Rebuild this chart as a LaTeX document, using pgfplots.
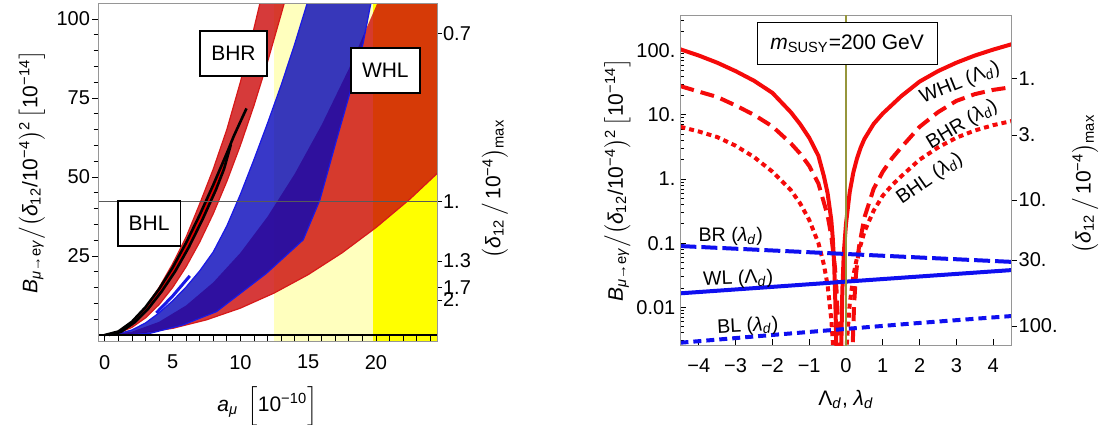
\documentclass[border=0pt]{standalone}
\usepackage{fontspec}
\setmainfont{Liberation Sans}
\usepackage{amsmath}
\usepackage{pgfplots}
\pgfplotsset{compat=1.18}
\definecolor{lyellow}{RGB}{255,255,190}
\definecolor{byellow}{RGB}{255,255,0}
\definecolor{bandred}{RGB}{204,9,9}
\definecolor{bandblue}{RGB}{6,6,186}
\definecolor{edgered}{RGB}{215,25,25}
\definecolor{edgeblue}{RGB}{25,25,230}
\definecolor{framegray}{RGB}{150,150,150}
\definecolor{olivel}{RGB}{150,150,60}
\definecolor{cred}{RGB}{245,10,10}
\definecolor{cblue}{RGB}{15,15,240}
\newcommand\tk{\fontsize{10}{12}\selectfont}
\newcommand\lb{\fontsize{10.5}{12.6}\selectfont}
\newcommand\cl{\fontsize{9.8}{11.8}\selectfont}
\newcommand\Blab{\textit{B}\textsubscript{\textit{μ}→e\textit{γ}}$\bigl/\bigl($\textit{δ}\textsubscript{12}/10\textsuperscript{−4}$\bigr)$\textsuperscript{2}\,$\bigl[$10\textsuperscript{−14}$\bigr]$}
\newcommand\Dlab{$\bigl($\textit{δ}\textsubscript{12}\,$\bigl/$\,10\textsuperscript{−4}$\bigr)$\textsubscript{max}}
\begin{document}
\begin{tikzpicture}
\path[use as bounding box] (0,0) rectangle (556pt,212pt);
% ================= LEFT PANEL =================
\begin{axis}[at={(49pt,41.5pt)}, anchor=south west, scale only axis,
  width=169.5pt, height=169pt,
  xmin=-0.5, xmax=24.5, ymin=-1.9, ymax=105.06,
  axis on top,
  axis line style={framegray, line width=0.5pt},
  tick align=inside, xtick pos=left, ytick=\empty,
  xtick={0,5,10,15,20}, xticklabels={0,5,10,15,20},
  minor xtick={1,2,3,4,6,7,8,9,11,12,13,14,16,17,18,19,21,22,23,24},
  major tick length=3pt, minor tick length=3pt,
  tick style={black, line width=0.4pt},
  xticklabel style={font=\tk, yshift=-3.5pt},
  xlabel={\textit{a}\textsubscript{\textit{μ}}\, $\Big[$10\textsuperscript{−10}$\Big]$},
  every axis x label/.style={at={(axis description cs:0.5,-0.192)}, anchor=center, font=\lb},
]
% background bands
\addplot[draw=none, fill=lyellow] coordinates {(12.46,-5) (19.8,-5) (19.8,110) (12.46,110)} -- cycle;
\addplot[draw=none, fill=byellow] coordinates {(19.8,-5) (26,-5) (26,110) (19.8,110)} -- cycle;
% WHL band
\addplot[draw=none, fill=bandred, fill opacity=0.8] coordinates {
(0,0) (2,1.04) (4,4.16) (6,9.36) (8,16.64) (10,26) (12,37.44) (14,50.96) (16,66.56) (18,84.24) (20,104) (20.4,108.2)
(26,108.2) (26,57.5) (25,53.1) (22.5,43) (20,34) (17.5,26) (15,19.1) (12.5,13.3) (10,8.5) (7.5,4.8) (5,2.1) (2.5,0.53)} -- cycle;
\addplot[edgered, line width=0.6pt] coordinates {
(0,0) (2.5,0.53) (5,2.1) (7.5,4.8) (10,8.5) (12.5,13.3) (15,19.1) (17.5,26) (20,34) (22.5,43) (25,53.1)};
% WL blue band
\addplot[draw=edgeblue, line width=0.6pt, fill=bandblue, fill opacity=0.8] coordinates {
(0,0) (1,0.4) (2,1.6) (3,3.8) (4,7) (5,10.8) (6,15.2) (7,20.3) (8,26.3) (9,34.5) (10,44.5) (11,55.5) (12,67) (13,79) (14,92) (15,106) (15.2,109)
(19.9,109) (19.67,106) (19.05,92.3) (18.07,76.5) (17.09,61.7) (15.86,42.7) (14.63,30.1) (11.92,19.5) (8.24,7.4) (5.78,3.2) (3.32,0.5) (1.5,0.05)} -- cycle;
% BHR band
\addplot[draw=edgered, line width=0.6pt, fill=bandred, fill opacity=0.8] coordinates {
(0,0) (1,1) (2,4) (3,8.8) (4,15) (5,22.5) (6,31) (7,41.5) (8,52.5) (9,65) (10,80) (11,97) (11.5,106) (11.6,108.5)
(13.4,108.5) (13.3,106) (13,101.4) (12,86.4) (11,72.6) (10,60) (9,48.6) (8,38.4) (7,29.4) (6,21.6) (5,15) (4,9.6) (3,5.4) (2,2.4) (1,0.6)} -- cycle;
% BHL band
\addplot[draw=none, fill=red!88!black] coordinates {
(0,0) (1,1.1) (2,4.2) (3,8.8) (4,14.5) (5,21.3) (6,29.2) (7,38) (8,47.5) (9,57.5) (9.5,62.8)
(9.3,60.3) (8.8,52.6) (8.2,46) (7.2,36.5) (6.2,27.8) (5.2,20.2) (4.2,13.8) (3.2,8.3) (2.2,4) (1.2,1) (0.3,0)} -- cycle;
\addplot[black, line width=1.3pt] coordinates {
(0,0) (1,1.1) (2,4.2) (3,8.8) (4,14.5) (5,21.3) (6,29.2) (7,38) (8,47.5) (9,57.5) (9.5,62.8) (10,67.5) (10.45,71.7)};
\addplot[black, line width=1.3pt] coordinates {
(0.3,0) (1.2,1) (2.2,4) (3.2,8.3) (4.2,13.8) (5.2,20.2) (6.2,27.8) (7.2,36.5) (8.2,46) (8.8,52.6) (9.3,60.3)};
% small blue segment
\addplot[edgeblue, line width=1.5pt] coordinates {(3.8,7.0) (5,12.3) (6.27,18.7)};
% reference lines
\addplot[black!65, line width=0.4pt] coordinates {(-1,42.2) (26,42.2)};
\addplot[black, line width=0.9pt] coordinates {(-1,0) (26,0)};
% labels
\node[draw=black, line width=0.9pt, fill=white, font=\lb, minimum height=22.5pt, inner xsep=5.5pt] at (axis cs:9.49,89) {BHR};
\node[draw=black, line width=0.9pt, fill=white, font=\lb, minimum height=22.5pt, inner xsep=5.5pt] at (axis cs:3.27,35.4) {BHL};
\node[draw=black, line width=0.9pt, fill=white, font=\lb, minimum height=22.5pt, inner xsep=5.5pt] at (axis cs:20.69,83.7) {WHL};
\end{axis}
% left ticks of left panel
\begin{axis}[at={(49pt,41.5pt)}, anchor=south west, scale only axis,
  width=169.5pt, height=169pt,
  xmin=-0.5, xmax=24.5, ymin=-1.9, ymax=105.06,
  hide x axis,
  axis line style={framegray, line width=0.5pt},
  tick align=outside, ytick pos=left,
  ytick={25,50,75,100}, yticklabels={25,50,75,100},
  minor ytick={5,10,15,20,30,35,40,45,55,60,65,70,80,85,90,95},
  major tick length=3pt, minor tick length=2.2pt,
  tick style={black, line width=0.4pt},
  yticklabel style={font=\tk, xshift=2.5pt},
  ylabel={\Blab},
  every axis y label/.style={at={(axis description cs:-0.195,0.5)}, anchor=center, rotate=90, font=\lb},
]
\end{axis}
% right ticks of left panel
\begin{axis}[at={(49pt,41.5pt)}, anchor=south west, scale only axis,
  width=169.5pt, height=169pt,
  xmin=-0.5, xmax=24.5, ymin=-1.9, ymax=105.06,
  hide x axis,
  axis line style={framegray, line width=0.5pt},
  tick align=outside, ytick pos=right, yticklabel pos=right,
  ytick={95.5,42.2,23.4,15.1,11.1}, yticklabels={0.7,1.,1.3,1.7,2.},
  major tick length=2.5pt, minor tick length=0pt,
  tick style={black, line width=0.4pt},
  yticklabel style={font=\tk, xshift=-3pt},
  ylabel={\Dlab},
  every axis y label/.style={at={(axis description cs:1.171,0.45)}, anchor=center, rotate=90, font=\lb},
]
\end{axis}
% ================= RIGHT PANEL =================
\begin{axis}[at={(340.2pt,39.5pt)}, anchor=south west, scale only axis,
  width=165.6pt, height=165pt,
  xmin=-4.5, xmax=4.5, ymode=log, ymin=0.00258, ymax=360,
  axis line style={framegray, line width=0.5pt},
  tick align=inside, xtick pos=left, ytick pos=left,
  xtick={-4,-3,-2,-1,0,1,2,3,4}, xticklabels={−4,−3,−2,−1,0,1,2,3,4},
  ytick={0.01,0.1,1,10,100}, yticklabels={0.01,0.1,1.,10.,100.},
  minor ytick={0.003,0.004,0.005,0.006,0.007,0.008,0.009,0.02,0.03,0.04,0.05,0.06,0.07,0.08,0.09,0.2,0.3,0.4,0.5,0.6,0.7,0.8,0.9,2,3,4,5,6,7,8,9,20,30,40,50,60,70,80,90,200,300},
  major tick length=3pt, minor tick length=1.8pt,
  tick style={black, line width=0.4pt},
  xticklabel style={font=\tk, yshift=-3.2pt},
  yticklabel style={font=\tk, xshift=1pt},
  xlabel={Λ\textsubscript{\textit{d}}, \textit{λ}\textsubscript{\textit{d}}},
  every axis x label/.style={at={(axis description cs:0.5,-0.164)}, anchor=center, font=\lb},
  ylabel={\Blab},
  every axis y label/.style={at={(axis description cs:-0.19,0.5)}, anchor=center, rotate=90, font=\lb},
]
% WHL solid
\addplot[cred, line width=2pt] coordinates {
(-4.5,105) (-4,84) (-3.5,65) (-3,48) (-2.5,34) (-2,22) (-1.5,11) (-1.25,7.2) (-1,4.4) (-0.75,2.3) (-0.6,1.1) (-0.5,0.6) (-0.4,0.23) (-0.36,0.12) (-0.32,0.045) (-0.29,0.012) (-0.27,0.004) (-0.2,0.00001)
(-0.125,0.003) (-0.1,0.018) (-0.06,0.07) (0,0.2) (0.1,0.62) (0.2,1.27) (0.3,2.1) (0.4,3.1) (0.5,4.2) (0.75,7.2) (1,10.5) (1.5,19.5) (2,33) (2.5,48) (3,65) (3.5,84) (4,104) (4.5,126)};
% BHR dashed
\addplot[cred, line width=2pt, dash pattern=on 7pt off 3.5pt] coordinates {
(-4.5,28) (-4,23) (-3.5,19) (-3,14) (-2.5,10) (-2,6.6) (-1.5,3.6) (-1.25,2.5) (-1,1.6) (-0.75,0.85) (-0.5,0.27) (-0.4,0.13) (-0.3,0.042) (-0.25,0.016) (-0.21,0.004) (0,0.00001)
(0.19,0.0035) (0.22,0.011) (0.27,0.032) (0.35,0.085) (0.5,0.25) (0.75,0.7) (1,1.3) (1.25,2.1) (1.5,3.1) (2,6.5) (2.5,11) (3,16.5) (3.5,21) (4,24.5) (4.5,27)};
% BHL dotted
\addplot[cred, line width=2pt, dash pattern=on 2.5pt off 2pt] coordinates {
(-4.5,6.5) (-4,5.5) (-3.5,4.5) (-3,3.3) (-2.5,2.2) (-2,1.3) (-1.5,0.67) (-1.25,0.42) (-1,0.23) (-0.75,0.1) (-0.6,0.046) (-0.5,0.022) (-0.4,0.0065) (-0.36,0.003) (-0.17,0.00001)
(0.03,0.0032) (0.1,0.011) (0.2,0.031) (0.3,0.06) (0.5,0.15) (0.75,0.32) (1,0.55) (1.25,0.8) (1.5,1.1) (2,2.0) (2.5,3.1) (3,4.4) (3.5,5.7) (4,6.9) (4.5,8.0)};
% BR dashed
\addplot[cblue, line width=2pt, dash pattern=on 8pt off 2.5pt] coordinates {
(-4.5,0.090) (-2,0.0768) (0,0.0677) (2,0.0597) (4.5,0.051)};
% WL solid
\addplot[cblue, line width=2pt] coordinates {
(-4.5,0.0165) (-2,0.0208) (0,0.0251) (2,0.0302) (4.5,0.038)};
% BL dotted
\addplot[cblue, line width=2pt, dash pattern=on 4pt off 2.5pt] coordinates {
(-4.5,0.0028) (-2,0.0037) (0,0.0046) (2,0.0057) (4.5,0.0073)};
% vertical line
\addplot[olivel, line width=0.6pt] coordinates {(0,0.001) (0,1000)};
% labels
\node[draw=black, line width=0.6pt, fill=white, font=\lb, minimum width=90pt, minimum height=21pt] at (axis cs:0.03,128) {\textit{m}\textsubscript{SUSY}=200 GeV};
\node[font=\cl, rotate=22] at (axis cs:3.1,31) {WHL (Λ\textsubscript{\textit{d}})};
\node[font=\cl, rotate=31] at (axis cs:3.16,7.0) {BHR (\textit{λ}\textsubscript{\textit{d}})};
\node[font=\cl, rotate=35] at (axis cs:2.28,1.0) {BHL (\textit{λ}\textsubscript{\textit{d}})};
\node[font=\cl] at (axis cs:-3.13,0.126) {BR (\textit{λ}\textsubscript{\textit{d}})};
\node[font=\cl, rotate=2] at (axis cs:-2.93,0.0276) {WL (Λ\textsubscript{\textit{d}})};
\node[font=\cl, rotate=3] at (axis cs:-2.67,0.005) {BL (\textit{λ}\textsubscript{\textit{d}})};
\end{axis}
% right ticks of right panel
\begin{axis}[at={(340.2pt,39.5pt)}, anchor=south west, scale only axis,
  width=165.6pt, height=165pt,
  xmin=-4.5, xmax=4.5, ymode=log, ymin=0.00258, ymax=360,
  hide x axis,
  axis line style={framegray, line width=0.5pt},
  tick align=outside, ytick pos=right, yticklabel pos=right,
  ytick={37.1,4.86,0.471,0.0546,0.00512}, yticklabels={1.,3.,10.,30.,100.},
  major tick length=2.5pt, minor tick length=0pt,
  tick style={black, line width=0.4pt},
  yticklabel style={font=\tk, xshift=-2.5pt},
  ylabel={\Dlab},
  every axis y label/.style={at={(axis description cs:1.222,0.488)}, anchor=center, rotate=90, font=\lb},
]
\end{axis}
\end{tikzpicture}
\end{document}
